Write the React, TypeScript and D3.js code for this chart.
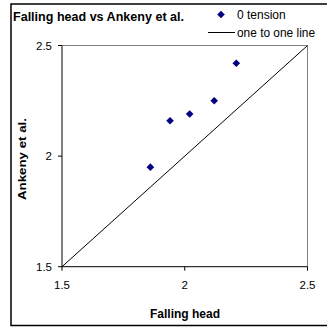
import React from "react";
import * as d3 from "d3";

const fallingHead = [1.86, 1.94, 2.02, 2.12, 2.21];
const ankeny = [1.95, 2.16, 2.19, 2.25, 2.42];
const oneToOne = [1.5, 2.5];
const xTicks = [1.5, 2, 2.5];
const yTicks = [1.5, 2, 2.5];
const tickLabels = ["1.5", "2", "2.5"];
const title = "Falling head vs Ankeny et al.";
const xTitle = "Falling head";
const yTitle = "Ankeny et al.";
const seriesName = "0 tension";
const lineName = "one to one line";

export default function App() {
  const W = 327;
  const H = 328;
  const L = 62, R = 307.5, T = 45.5, B = 266.7;
  const x = d3.scaleLinear().domain([1.5, 2.5]).range([L, R]);
  const y = d3.scaleLinear().domain([1.5, 2.5]).range([B, T]);
  const font = "Liberation Sans, Arial, sans-serif";
  const diamond = (cx: number, cy: number, r: number) =>
    `M${cx},${cy - r}L${cx + r},${cy}L${cx},${cy + r}L${cx - r},${cy}Z`;
  const line = d3.line<number>().x((d) => x(d)).y((d) => y(d));
  return (
    <svg width={W} height={H} style={{ position: "absolute", left: 0, top: 0 }}>
      <rect x={0} y={0} width={W} height={H} fill="#fff" />
      <rect x={11} y={4} width={330} height={321.5} fill="none" stroke="#000" strokeWidth={1.5} />
      <text x={13} y={21} fontFamily={font} fontWeight="bold" fontSize={12.5} textLength={171} lengthAdjust="spacingAndGlyphs" fill="#000">{title}</text>
      {/* legend */}
      <path d={diamond(221, 14.5, 3.8)} fill="#000080" />
      <text x={237} y={18.5} fontFamily={font} fontSize={12} fill="#000">{seriesName}</text>
      <line x1={208} x2={235} y1={32.5} y2={32.5} stroke="#000" strokeWidth={1} />
      <text x={237} y={36.5} fontFamily={font} fontSize={12} textLength={78} lengthAdjust="spacingAndGlyphs" fill="#000">{lineName}</text>
      {/* plot border */}
      <line x1={L} x2={R} y1={T} y2={T} stroke="#808080" strokeWidth={1} />
      <line x1={R} x2={R} y1={T} y2={B} stroke="#808080" strokeWidth={1} />
      {/* axes */}
      <line x1={L} x2={R} y1={B} y2={B} stroke="#000" strokeWidth={1} />
      <line x1={L} x2={L} y1={T} y2={B} stroke="#000" strokeWidth={1} />
      {xTicks.map((t, i) => (
        <g key={"x" + i}>
          <line x1={x(t)} x2={x(t)} y1={B} y2={B + 4} stroke="#000" />
          <text x={x(t)} y={289} textAnchor="middle" fontFamily={font} fontSize={11.5} fill="#000">{tickLabels[i]}</text>
        </g>
      ))}
      {yTicks.map((t, i) => (
        <g key={"y" + i}>
          <line x1={L - 4} x2={L} y1={y(t)} y2={y(t)} stroke="#000" />
          <text x={L - 10} y={y(t) + 4} textAnchor="end" fontFamily={font} fontSize={11.5} fill="#000">{tickLabels[i]}</text>
        </g>
      ))}
      <text x={185} y={317.5} textAnchor="middle" fontFamily={font} fontWeight="bold" fontSize={12} textLength={70} lengthAdjust="spacingAndGlyphs" fill="#000">{xTitle}</text>
      <text transform={`translate(26,${159}) rotate(-90)`} textAnchor="middle" fontFamily={font} fontWeight="bold" fontSize={11.5} textLength={82} lengthAdjust="spacingAndGlyphs" fill="#000">{yTitle}</text>
      {/* one to one line */}
      <path d={line(oneToOne) || ""} stroke="#000" strokeWidth={1} fill="none" />
      {/* points */}
      {fallingHead.map((v, i) => (
        <path key={i} d={diamond(x(v), y(ankeny[i]), 3.8)} fill="#000080" />
      ))}
    </svg>
  );
}
